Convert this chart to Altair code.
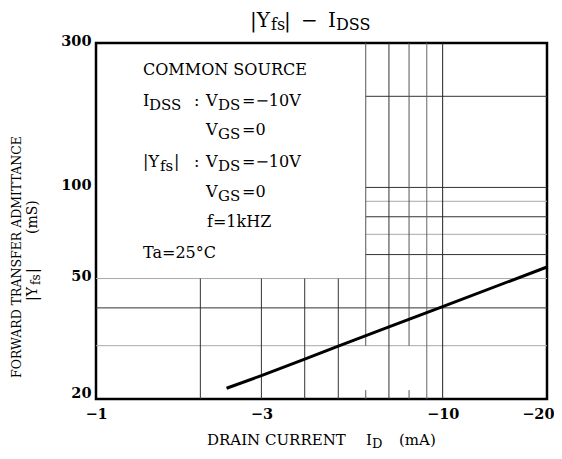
import altair as alt
import pandas as pd

# ---- data ----
id_ma = [2.38, 3, 4, 5, 7, 10, 20]                   # |ID| (mA)
yfs_ms = [21.7, 23.9, 27.1, 29.9, 34.6, 40.4, 54.6]  # |Yfs| (mS)

x_ticks = [1, 3, 10, 20]
y_ticks = [20, 50, 100, 300]

DARK = "#333333"
GRAY = "#a8a8a8"
MID = "#555555"

# horizontal grid segments
hg_y = [200, 100, 90, 80, 70, 60, 50, 40, 30]
hg_x1 = [6, 6, 6, 6, 6, 6, 1, 1, 1]
hg_x2 = [20, 20, 20, 20, 20, 20, 20, 20, 20]
hg_c = [DARK, DARK, GRAY, DARK, GRAY, DARK, GRAY, DARK, GRAY]

# vertical grid segments
vg_x = [2, 3, 4, 5, 6, 6, 7, 8, 8, 9, 10]
vg_y1 = [20, 20, 20, 20, 30, 20, 20, 30, 20, 20, 20]
vg_y2 = [50, 50, 50, 50, 300, 21.4, 300, 300, 21.4, 300, 300]
vg_c = [DARK, DARK, DARK, DARK, MID, MID, DARK, MID, MID, "#666666", "#222222"]

# annotation pieces (page pixel positions, baseline-left anchored)
OX, OY = 96, 43
ann = [
    # title
    ("|Y", 250, 27, 20, 0), ("fs", 271, 30, 16, 0), ("|", 284, 27, 20, 0),
    ("−", 301, 27, 20, 0), ("I", 328, 27, 20, 0), ("DSS", 336, 30, 16, 0),
    # conditions box
    ("COMMON SOURCE", 143, 75, 16, 0),
    ("I", 143, 106, 16, 0), ("DSS", 149, 110, 15, 0), (":", 194, 106, 16, 0),
    ("V", 206, 106, 16, 0), ("DS", 218, 110, 15, 0), ("=−10V", 242, 106, 16, 0),
    ("V", 206, 135, 16, 0), ("GS", 218, 139, 15, 0), ("=0", 242, 135, 16, 0),
    ("|Y", 143, 167, 16, 0), ("fs", 160, 171, 15, 0), ("|", 174, 167, 16, 0),
    (":", 194, 167, 16, 0),
    ("V", 206, 167, 16, 0), ("DS", 218, 171, 15, 0), ("=−10V", 242, 167, 16, 0),
    ("V", 206, 197, 16, 0), ("GS", 218, 201, 15, 0), ("=0", 242, 197, 16, 0),
    ("f=1kHZ", 207, 227, 16, 0),
    ("Ta=25°C", 143, 258, 16, 0),
    # x title
    ("DRAIN CURRENT", 207, 445, 15, 0), ("I", 366, 445, 15, 0),
    ("D", 372, 448, 13, 0), ("(mA)", 399, 445, 15, 0),
    # y title (rotated)
    ("FORWARD TRANSFER ADMITTANCE", 21, 378, 12.5, 270),
    ("|Y", 37, 301, 14, 270), ("fs", 40, 285, 12, 270), ("|", 37, 273, 14, 270),
    ("(mS)", 37, 234, 14, 270),
]
ann_text = [a[0] for a in ann]
ann_px = [a[1] - OX for a in ann]
ann_py = [a[2] - OY for a in ann]
ann_size = [a[3] for a in ann]
ann_angle = [a[4] for a in ann]

FONT = "DejaVu Serif"

xs = alt.Scale(type="log", domain=[1, 20], nice=False)
ys = alt.Scale(type="log", domain=[20, 300], nice=False)

hgrid = pd.DataFrame({"y": hg_y, "x1": hg_x1, "x2": hg_x2, "c": hg_c})
vgrid = pd.DataFrame({"x": vg_x, "y1": vg_y1, "y2": vg_y2, "c": vg_c})
curve = pd.DataFrame({"id": id_ma, "yfs": yfs_ms})
anns = pd.DataFrame({"t": ann_text, "px": ann_px, "py": ann_py,
                     "s": ann_size, "a": ann_angle})

x_axis = alt.Axis(values=x_ticks, labelExpr="'−' + datum.value", title=None,
                  ticks=False, domain=False, grid=False, labelFont=FONT,
                  labelFontSize=14.5, labelFontWeight="bold", labelColor="black",
                  labelPadding=8, labelFlush=False,
                  labelAlign={"condition": {"test": "datum.value == 20", "value": "right"},
                              "value": "center"},
                  labelOffset={"condition": {"test": "datum.value == 20", "value": 7},
                               "value": 0})
y_axis = alt.Axis(values=y_ticks, title=None, ticks=False, domain=False,
                  grid=False, labelFont=FONT, labelFontSize=14.5,
                  labelFontWeight="bold", labelColor="black", labelPadding=5,
                  labelOffset={"condition": {"test": "datum.value == 20", "value": -6},
                               "value": -2})

h_layer = alt.Chart(hgrid).mark_rule(strokeWidth=1).encode(
    x=alt.X("x1:Q", scale=xs, axis=x_axis),
    x2="x2:Q",
    y=alt.Y("y:Q", scale=ys, axis=y_axis),
    color=alt.Color("c:N", scale=None),
)
v_layer = alt.Chart(vgrid).mark_rule(strokeWidth=1).encode(
    x=alt.X("x:Q", scale=xs),
    y=alt.Y("y1:Q", scale=ys),
    y2="y2:Q",
    color=alt.Color("c:N", scale=None),
)
line_layer = alt.Chart(curve).mark_line(color="black", strokeWidth=3).encode(
    x=alt.X("id:Q", scale=xs),
    y=alt.Y("yfs:Q", scale=ys),
)
text_layer = alt.Chart(anns).mark_text(
    font=FONT, align="left", baseline="alphabetic", color="black"
).encode(
    x=alt.X("px:Q", scale=None, axis=None),
    y=alt.Y("py:Q", scale=None, axis=None),
    text="t:N",
    size=alt.Size("s:Q", scale=None, legend=None),
    angle=alt.Angle("a:Q", scale=None, legend=None),
)

chart = alt.layer(h_layer, v_layer, line_layer, text_layer).properties(
    width=451, height=356,
    autosize=alt.AutoSizeParams(type="none"),
    padding={"left": 88, "top": 35, "right": 7, "bottom": 52},
).configure_view(stroke="black", strokeWidth=2.5)

chart.save("out.html", embed_options={"renderer": "svg", "actions": False})
